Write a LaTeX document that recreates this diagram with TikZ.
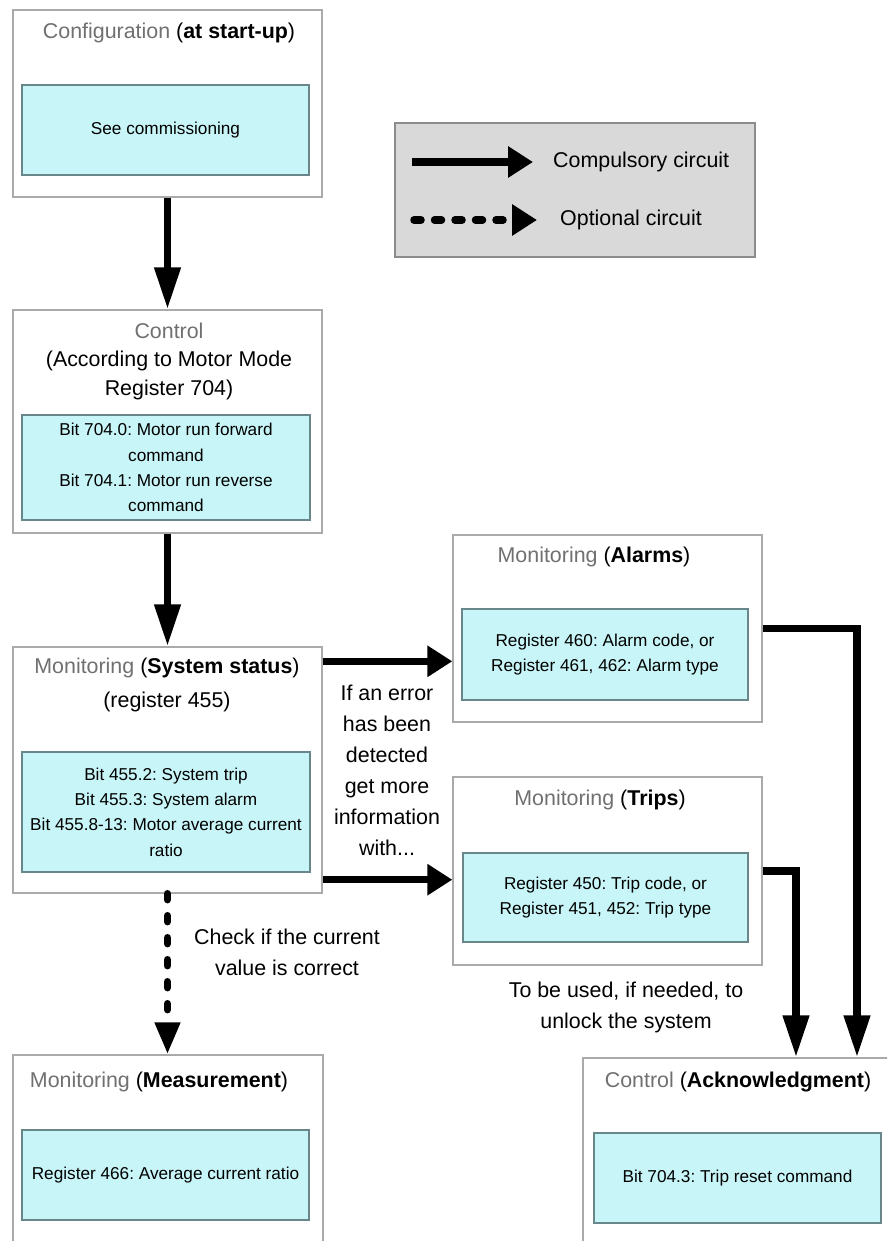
\documentclass[tikz,border=0pt]{standalone}
\usepackage{fontspec}
\setmainfont{Liberation Sans}
\usetikzlibrary{arrows.meta,calc}
\definecolor{cyanfill}{RGB}{200,245,247}
\definecolor{innerline}{RGB}{105,135,138}
\definecolor{outerline}{RGB}{170,170,170}
\definecolor{titlegray}{RGB}{112,112,112}
\definecolor{legendfill}{RGB}{217,217,217}
\definecolor{legendline}{RGB}{140,140,140}
\newcommand{\gr}[1]{\textcolor{titlegray}{#1}}
\frenchspacing
\begin{document}
\frenchspacing
\begin{tikzpicture}[x=1pt,y=-1pt,
  outerbox/.style={draw=outerline, line width=1.4pt, fill=white, inner sep=0pt},
  innerbox/.style={draw=innerline, line width=1.1pt, fill=cyanfill, inner sep=0pt, align=center,
    font=\fontsize{17.2}{25.3}\selectfont},
  titletext/.style={inner sep=0pt, align=center, font=\fontsize{21.4}{28.5}\selectfont},
  notetext/.style={inner sep=0pt, align=center, font=\fontsize{21.4}{31}\selectfont},
  harrow/.style={line width=7.5pt, -{Triangle[length=25pt,width=30pt]}},
  varrow/.style={line width=7.5pt, -{Triangle[length=42pt,width=25pt]}},
  dasharrow/.style={line width=7.5pt, line cap=round, dash pattern=on 6pt off 16pt,
    -{Triangle[length=32pt,width=24pt]}},
  legdash/.style={line width=7.5pt, line cap=round, dash pattern=on 7pt off 13.5pt,
    -{Triangle[length=25pt,width=30pt]}}
]
\clip (0,0) rectangle (887,1241);
\fill[white] (0,0) rectangle (887,1241);

% legend
\node[draw=legendline, line width=1.4pt, fill=legendfill, minimum width=360pt, minimum height=134pt, inner sep=0pt] (legend) at (575,190) {};
\coordinate (l1a) at (412,162);
\coordinate (l1b) at (533,162);
\coordinate (l2a) at (414,220);
\coordinate (l2b) at (537,220);
\draw[harrow] (l1a) -- (l1b);
\draw[legdash] (l2a) -- (l2b);
\node[titletext, anchor=west] (legc) at (553,162) {Compulsory circuit};
\node[titletext, anchor=west] (lego) at (560,220) {Optional circuit};

% Configuration
\node[outerbox, minimum width=309pt, minimum height=187pt] (cfg) at (167.5,103.5) {};
\node[innerbox, minimum width=287pt, minimum height=90pt] (cfgi) at (165.5,130) {See commissioning};
\node[titletext] (cfgt) at (169,33) {\gr{Configuration} (\textbf{at start-up})};

% Control
\node[outerbox, minimum width=309pt, minimum height=223pt] (ctl) at (167.5,421.5) {};
\node[innerbox, minimum width=288pt, minimum height=105pt] (ctli) at (166,467.5)
  {Bit 704.0: Motor run forward\\command\\Bit 704.1: Motor run reverse\\command};
\node[titletext] (ctlt) at (169,361) {\gr{Control}\\(According to Motor Mode\\Register 704)};

% System status
\node[outerbox, minimum width=309pt, minimum height=246pt] (sys) at (167.5,770) {};
\node[innerbox, minimum width=288pt, minimum height=120pt] (sysi) at (166,812)
  {Bit 455.2: System trip\\Bit 455.3: System alarm\\Bit 455.8-13: Motor average current\\ratio};
\node[titletext, font=\fontsize{21.4}{34}\selectfont] (syst) at (167,685) {\gr{Monitoring} (\textbf{System status})\\(register 455)};

% Alarms
\node[outerbox, minimum width=309pt, minimum height=187pt] (alm) at (607.5,628.5) {};
\node[innerbox, minimum width=286pt, minimum height=91pt] (almi) at (605,654.5)
  {Register 460: Alarm code, or\\Register 461, 462: Alarm type};
\node[titletext] (almt) at (594,557) {\gr{Monitoring} (\textbf{Alarms})};

% Trips
\node[outerbox, minimum width=309pt, minimum height=188pt] (trp) at (607.5,871) {};
\node[innerbox, minimum width=285pt, minimum height=89pt] (trpi) at (605.5,897.5)
  {Register 450: Trip code, or\\Register 451, 452: Trip type};
\node[titletext] (trpt) at (600,800) {\gr{Monitoring} (\textbf{Trips})};

% Measurement
\node[outerbox, minimum width=310pt, minimum height=205pt] (mea) at (168,1157.5) {};
\node[innerbox, minimum width=287pt, minimum height=90pt] (meai) at (165.5,1175)
  {Register 466: Average current ratio};
\node[titletext] (meat) at (159,1082) {\gr{Monitoring} (\textbf{Measurement})};

% Acknowledgment
\node[outerbox, minimum width=312pt, minimum height=202pt] (ack) at (739,1159) {};
\node[innerbox, minimum width=287pt, minimum height=90pt] (acki) at (737.5,1178)
  {Bit 704.3: Trip reset command};
\node[titletext] (ackt) at (738,1082) {\gr{Control} (\textbf{Acknowledgment})};

% notes
\node[notetext] (n1) at (387,770) {If an error\\has been\\detected\\get more\\information\\with...};
\node[notetext] (n2) at (287,952) {Check if the current\\value is correct};
\node[notetext] (n3) at (626,1007) {To be used, if needed, to\\unlock the system};

% connectors
\draw[varrow] (cfg.south) -- (ctl.north);
\draw[varrow] (ctl.south) -- (sys.north);
\draw[harrow] ([yshift=-15pt]sys.north east) -- ([yshift=-15pt]sys.north east -| alm.west);
\draw[harrow] ([yshift=14pt]sys.south east) -- ([yshift=14pt]sys.south east -| trp.west);
\draw[dasharrow] (sys.south) -- (sys.south |- mea.north);
\draw[varrow] (alm.east) -| ([xshift=118pt]ack.north);
\draw[varrow] (trp.east) -| ([xshift=57pt]ack.north);
\end{tikzpicture}
\end{document}
